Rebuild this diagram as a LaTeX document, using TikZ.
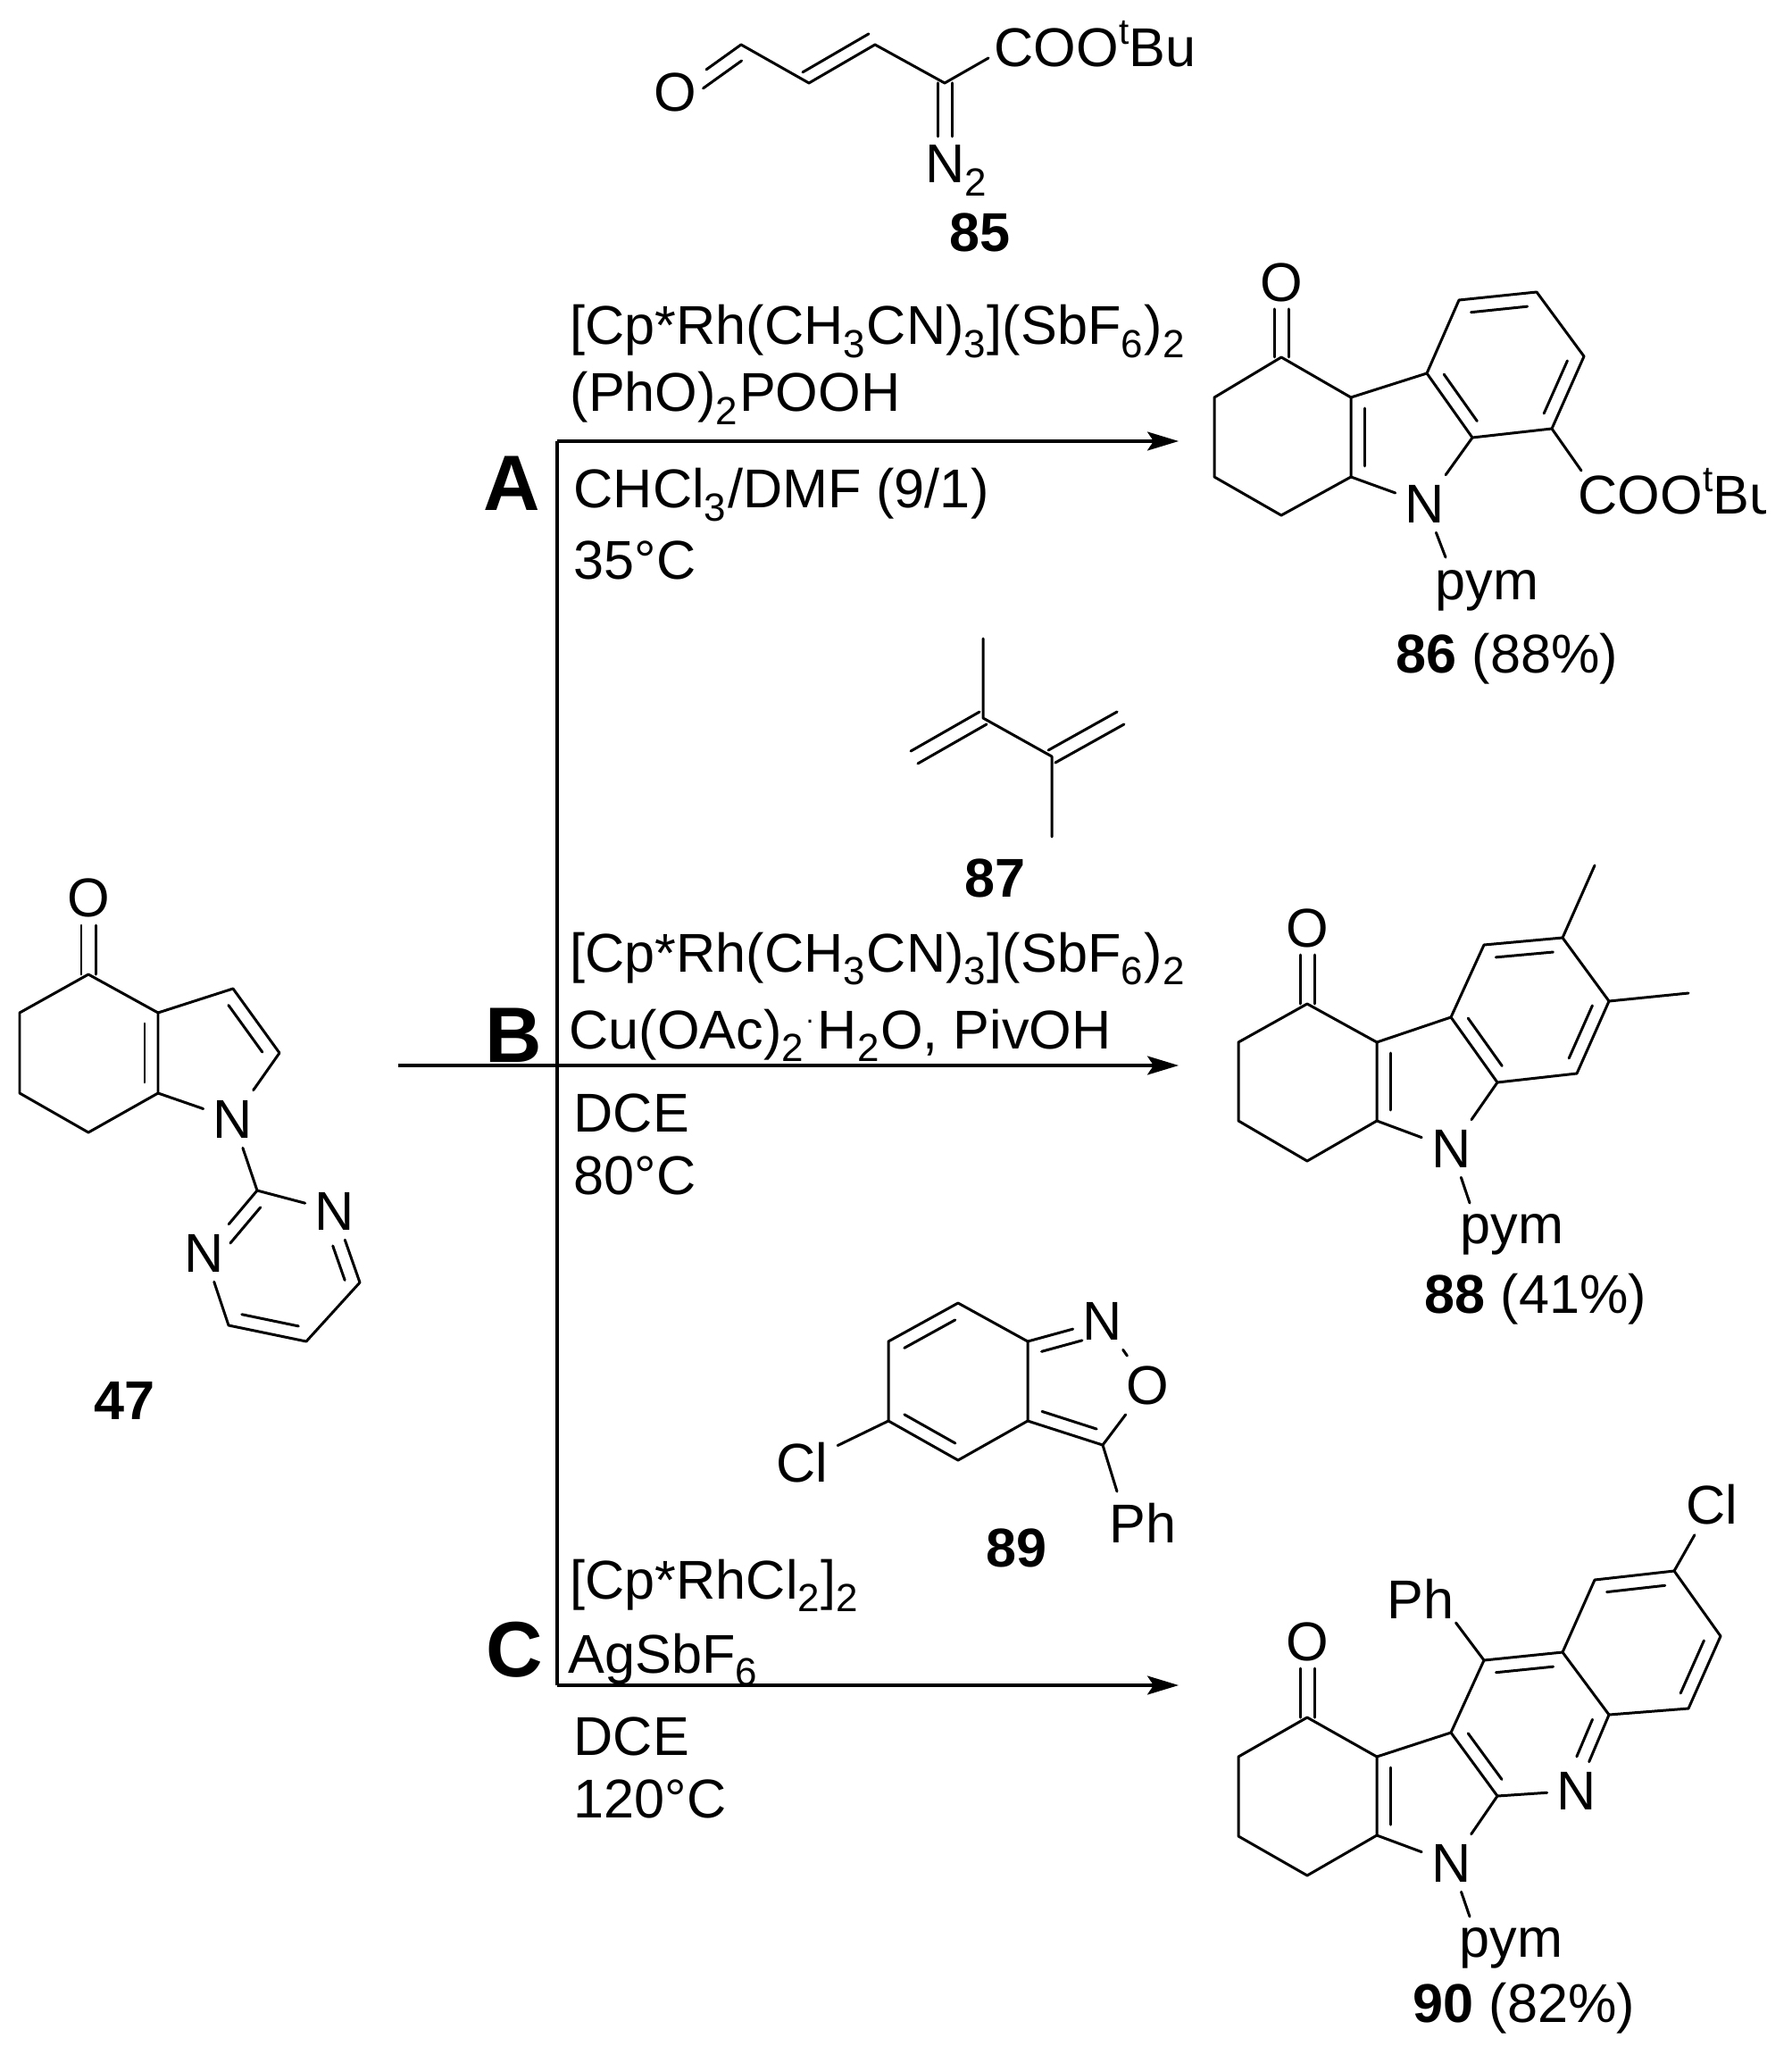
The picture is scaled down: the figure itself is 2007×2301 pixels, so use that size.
\documentclass[tikz,border=0pt]{standalone}
\usepackage{fontspec}
\setmainfont{Liberation Sans}
\usetikzlibrary{calc,arrows.meta}
\newcommand{\chemsub}[1]{\raisebox{-.24em}{\fontsize{12.5}{12.5}\selectfont #1}\kern.5pt}
\newcommand{\chemsup}[1]{\raisebox{.42em}{\fontsize{11.5}{11.5}\selectfont #1}}
\newcommand{\innerbond}[4][]{\draw[bond,shorten <=.12cm,shorten >=.12cm,#1] ($(#2)!#4!90:(#3)$) -- ($(#3)!#4!-90:(#2)$);}
\newcommand{\twinbond}[2]{\draw[bond] ($(#1)!.08cm!90:(#2)$) -- ($(#2)!.08cm!-90:(#1)$);
  \draw[bond] ($(#1)!-.08cm!90:(#2)$) -- ($(#2)!-.08cm!-90:(#1)$);}
\tikzset{
  bond/.style={line width=.85pt,line cap=round,line join=round},
  rxnline/.style={line width=.95pt},
  rxnarrow/.style={line width=.95pt,-{Stealth[length=.35cm,width=.21cm,inset=.07cm]}},
  atom/.style={inner sep=3pt,font=\fontsize{17.4}{17.4}\selectfont},
  lab/.style={anchor=base west,inner sep=0pt,font=\fontsize{17.4}{17.4}\selectfont},
  num/.style={lab,font=\fontsize{17.4}{17.4}\selectfont\bfseries},
  tag/.style={anchor=base west,inner sep=0pt,font=\fontsize{25}{25}\selectfont\bfseries},
}
\begin{document}
\begin{tikzpicture}[x=.01cm,y=-.01cm]
  \useasboundingbox (0,0) rectangle (2007,2301);

  % Skjema
  \coordinate (top) at (624,494);
  \coordinate (mid) at (624,1193);
  \coordinate (bot) at (624,1887);
  \coordinate (start) at (446,1193);
  \coordinate (endA) at (1320,494);
  \coordinate (endB) at (1320,1193);
  \coordinate (endC) at (1320,1887);
  \draw[rxnline] (top) -- (bot);
  \draw[rxnline] (start) -- (mid);
  \draw[rxnarrow] (top) -- (endA);
  \draw[rxnarrow] (mid) -- (endB);
  \draw[rxnarrow] (bot) -- (endC);

  % Betingelser A
  \node[tag] (tagA) at (541,572) {A};
  \node[lab] (catA) at (638,386) {[Cp*Rh(CH\chemsub{3}CN)\chemsub{3}](SbF\chemsub{6})\chemsub{2}};
  \node[lab] (addA) at (638,461) {(PhO)\chemsub{2}POOH};
  \node[lab] (solA) at (642,569) {CHCl\chemsub{3}/DMF (9/1)};
  \node[lab] (tempA) at (642,649) {35°C};

  % Betingelser B
  \node[tag] (tagB) at (543,1189) {B};
  \node[lab] (catB) at (638,1088) {[Cp*Rh(CH\chemsub{3}CN)\chemsub{3}](SbF\chemsub{6})\chemsub{2}};
  \node[lab] (addB) at (637,1174) {Cu(OAc)\chemsub{2}\raisebox{.35em}{\fontsize{9}{9}\selectfont ·}\kern1pt H\chemsub{2}O, PivOH};
  \node[lab] (solB) at (642,1267) {DCE};
  \node[lab] (tempB) at (642,1337) {80°C};

  % Betingelser C
  \node[tag] (tagC) at (544,1877) {C};
  \node[lab] (catC) at (638,1790) {[Cp*RhCl\chemsub{2}]\chemsub{2}};
  \node[lab] (addC) at (636,1873) {AgSbF\chemsub{6}};
  \node[lab] (solC) at (642,1965) {DCE};
  \node[lab] (tempC) at (642,2035) {120°C};

  % Forbindelse 47
  \node[atom] (o47) at (99,1005) {O};
  \node[atom] (n47) at (261,1253) {N};
  \node[atom] (na47) at (375,1356) {N};
  \node[atom] (nb47) at (229,1403) {N};
  \coordinate (b1) at (99,1091);
  \coordinate (b2) at (22,1134);
  \coordinate (b3) at (22,1224);
  \coordinate (b4) at (99,1268);
  \coordinate (b5) at (177,1224);
  \coordinate (b6) at (177,1134);
  \coordinate (b7) at (261,1107);
  \coordinate (b8) at (313,1179);
  \coordinate (c1) at (288,1333);
  \coordinate (c4) at (403,1436);
  \coordinate (c5) at (343,1502);
  \coordinate (c6) at (256,1484);
  \coordinate (oe47) at (99,1036);
  \draw[bond] (b1) -- (b2) -- (b3) -- (b4) -- (b5) -- (b6) -- (b1);
  \draw[bond] (b6) -- (b7) -- (b8) -- (n47) -- (b5);
  \draw[bond] (n47) -- (c1) -- (na47);
  \draw[bond] (na47) -- (c4) -- (c5) -- (c6) -- (nb47) -- (c1);
  \twinbond{b1}{oe47}
  \innerbond{b6}{b5}{-.15cm}
  \innerbond{b7}{b8}{-.15cm}
  \innerbond[shorten >=.27cm]{c1}{nb47}{.15cm}
  \innerbond[shorten <=.36cm,shorten >=.08cm]{na47}{c4}{-.15cm}
  \innerbond{c6}{c5}{.15cm}
  \node[num] (num47) at (105,1589) {47};

  % Forbindelse 85
  \node[atom] (o85) at (756,103) {O};
  \coordinate (h1) at (830,50);
  \coordinate (h2) at (906,93);
  \coordinate (h3) at (980,50);
  \coordinate (h4) at (1058,93);
  \coordinate (h5) at (1107,65);
  \coordinate (ne85) at (1058,153);
  \draw[bond] (o85) -- (h1) -- (h2) -- (h3) -- (h4) -- (h5);
  \twinbond{h4}{ne85}
  \innerbond[shorten <=.1cm,shorten >=.28cm]{h1}{o85}{.15cm}
  \innerbond[shorten <=.0cm,shorten >=.0cm]{h2}{h3}{.14cm}
  \node[lab] (est85) at (1113,75) {COO\chemsup{t}Bu};
  \node[lab] (n85) at (1036,205) {N\chemsub{2}};
  \node[num] (num85) at (1063,282) {85};

  % Forbindelse 86
  \node[atom] (o86) at (1435,316) {O};
  \node[atom] (n86) at (1596,564) {N};
  \coordinate (a1) at (1435,400);
  \coordinate (a2) at (1360,445);
  \coordinate (a3) at (1360,534);
  \coordinate (a4) at (1435,577);
  \coordinate (a5) at (1513,534);
  \coordinate (a6) at (1513,445);
  \coordinate (a7) at (1598,418);
  \coordinate (a8) at (1649,490);
  \coordinate (a9) at (1634,336);
  \coordinate (a10) at (1721,327);
  \coordinate (a11) at (1774,399);
  \coordinate (a12) at (1738,480);
  \coordinate (a13) at (1771,527);
  \coordinate (oe86) at (1435,346);
  \coordinate (pa86) at (1619,624);
  \draw[bond] (a1) -- (a2) -- (a3) -- (a4) -- (a5) -- (a6) -- (a1);
  \draw[bond] (a6) -- (a7) -- (a8) -- (n86) -- (a5);
  \draw[bond] (a7) -- (a9) -- (a10) -- (a11) -- (a12) -- (a8);
  \draw[bond] (a12) -- (a13);
  \draw[bond] (n86) -- (pa86);
  \twinbond{a1}{oe86}
  \innerbond{a6}{a5}{.15cm}
  \innerbond{a7}{a8}{.15cm}
  \innerbond{a9}{a10}{-.15cm}
  \innerbond{a11}{a12}{-.15cm}
  \begin{scope}
    \clip (0,0) rectangle (1977,2301);
    \node[lab] (est86) at (1767,576) {COO\chemsup{t}Bu};
  \end{scope}
  \node[lab] (pym86) at (1607,672) {pym};
  \node[lab] (num86) at (1563,753) {\textbf{86} (88\%)};

  % Forbindelse 87
  \coordinate (g1) at (1101,715);
  \coordinate (g2) at (1101,804);
  \coordinate (g3) at (1178,847);
  \coordinate (g4) at (1178,937);
  \coordinate (g5) at (1024,848);
  \coordinate (g6) at (1255,804);
  \draw[bond] (g1) -- (g2) -- (g3) -- (g4);
  \twinbond{g2}{g5}
  \twinbond{g3}{g6}
  \node[num] (num87) at (1080,1004) {87};

  % Forbindelse 88
  \node[atom] (o88) at (1464,1039) {O};
  \node[atom] (n88) at (1625.5,1286) {N};
  \coordinate (d1) at (1464,1124);
  \coordinate (d2) at (1387,1167);
  \coordinate (d3) at (1387,1255);
  \coordinate (d4) at (1464,1300);
  \coordinate (d5) at (1542,1255);
  \coordinate (d6) at (1542,1167);
  \coordinate (d7) at (1625,1139);
  \coordinate (d8) at (1677,1212);
  \coordinate (d9) at (1662,1058);
  \coordinate (d10) at (1750,1050);
  \coordinate (d11) at (1802,1121);
  \coordinate (d12) at (1766,1202);
  \coordinate (me1) at (1786,969);
  \coordinate (me2) at (1891,1112);
  \coordinate (oe88) at (1464,1069);
  \coordinate (pa88) at (1646,1347);
  \draw[bond] (d1) -- (d2) -- (d3) -- (d4) -- (d5) -- (d6) -- (d1);
  \draw[bond] (d6) -- (d7) -- (d8) -- (n88) -- (d5);
  \draw[bond] (d7) -- (d9) -- (d10) -- (d11) -- (d12) -- (d8);
  \draw[bond] (d10) -- (me1);
  \draw[bond] (d11) -- (me2);
  \draw[bond] (n88) -- (pa88);
  \twinbond{d1}{oe88}
  \innerbond{d6}{d5}{.15cm}
  \innerbond{d7}{d8}{.15cm}
  \innerbond{d9}{d10}{-.15cm}
  \innerbond{d11}{d12}{-.15cm}
  \node[lab] (pym88) at (1635,1392) {pym};
  \node[lab] (num88) at (1595,1470) {\textbf{88} (41\%)};

  % Forbindelse 89
  \node[atom] (n89) at (1235,1479) {N};
  \node[atom] (o89) at (1285.5,1551) {O};
  \node[atom] (cl89) at (898,1638) {Cl};
  \coordinate (f1) at (1073,1459);
  \coordinate (f2) at (995,1502);
  \coordinate (f3) at (995,1591);
  \coordinate (f4) at (1073,1635);
  \coordinate (f5) at (1151,1591);
  \coordinate (f6) at (1151,1502);
  \coordinate (f7) at (1235,1618);
  \coordinate (pe89) at (1251,1670);
  \draw[bond] (f1) -- (f2) -- (f3) -- (f4) -- (f5) -- (f6) -- (f1);
  \draw[bond] (f6) -- (n89) -- (o89) -- (f7) -- (f5);
  \draw[bond] (f3) -- (cl89);
  \draw[bond] (f7) -- (pe89);
  \innerbond{f1}{f2}{.15cm}
  \innerbond{f3}{f4}{.15cm}
  \innerbond[shorten >=.28cm]{f6}{n89}{-.15cm}
  \innerbond{f5}{f7}{.15cm}
  \node[lab] (ph89) at (1242,1727) {Ph};
  \node[num] (num89) at (1104,1754) {89};

  % Forbindelse 90
  \node[atom] (o90) at (1464,1838) {O};
  \node[atom] (na90) at (1625.5,2086) {N};
  \node[atom] (nb90) at (1766,2005) {N};
  \node[atom] (cl90) at (1917,1685) {Cl};
  \coordinate (e1) at (1464,1923);
  \coordinate (e2) at (1387,1967);
  \coordinate (e3) at (1387,2056);
  \coordinate (e4) at (1464,2100);
  \coordinate (e5) at (1542,2055);
  \coordinate (e6) at (1542,1967);
  \coordinate (e7) at (1625,1940);
  \coordinate (e8) at (1677,2011);
  \coordinate (e9) at (1662,1859);
  \coordinate (e10) at (1750,1850);
  \coordinate (e11) at (1802,1920);
  \coordinate (e12) at (1891,1913);
  \coordinate (e13) at (1927,1832);
  \coordinate (e14) at (1875,1759);
  \coordinate (e15) at (1786,1769);
  \coordinate (oe90) at (1464,1868);
  \coordinate (pe90) at (1630.5,1817);
  \coordinate (pa90) at (1646,2146);
  \draw[bond] (e1) -- (e2) -- (e3) -- (e4) -- (e5) -- (e6) -- (e1);
  \draw[bond] (e6) -- (e7) -- (e8) -- (na90) -- (e5);
  \draw[bond] (e7) -- (e9) -- (e10) -- (e11) -- (nb90) -- (e8);
  \draw[bond] (e10) -- (e15) -- (e14) -- (e13) -- (e12) -- (e11);
  \draw[bond] (e14) -- (cl90);
  \draw[bond] (e9) -- (pe90);
  \draw[bond] (na90) -- (pa90);
  \twinbond{e1}{oe90}
  \innerbond{e6}{e5}{.15cm}
  \innerbond{e7}{e8}{.15cm}
  \innerbond{e9}{e10}{-.15cm}
  \innerbond{e15}{e14}{-.15cm}
  \innerbond{e13}{e12}{-.15cm}
  \innerbond[shorten >=.35cm]{e11}{nb90}{-.15cm}
  \node[lab] (ph90) at (1553,1812) {Ph};
  \node[lab] (pym90) at (1634,2191) {pym};
  \node[lab] (num90) at (1582,2264) {\textbf{90} (82\%)};
\end{tikzpicture}
\end{document}
